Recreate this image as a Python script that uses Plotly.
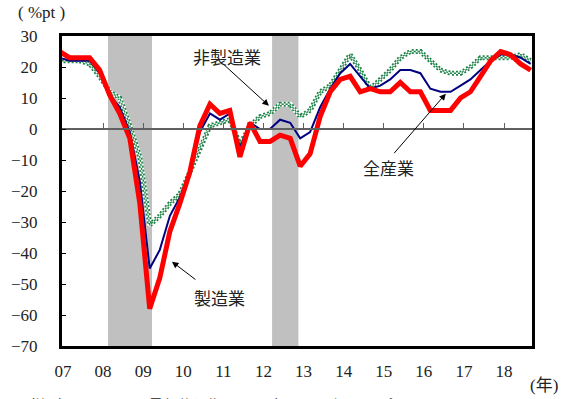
import pandas as pd
import plotly.graph_objects as go

# Tankan business conditions DI (large enterprises), survey months Dec 2006 - Sep 2018
survey_months = pd.date_range("2006-12-01", "2018-09-01", freq="3MS")

manufacturing = [25, 23, 23, 23, 19, 11, 5, -3, -24, -58, -48, -33, -24, -14, 1, 8, 5, 6, -9, 2,
                 -4, -4, -2, -3, -12, -8, 4, 12, 16, 17, 12, 13, 12, 12, 15, 12, 12, 6, 6, 6,
                 10, 12, 17, 22, 25, 24, 21, 19]
non_manufacturing = [22, 22, 22, 21, 17, 12, 10, 1, -9, -31, -28, -24, -21, -14, -6, 1, 2, 3, -5, 1,
                     4, 5, 8, 8, 4, 6, 12, 14, 19, 24, 19, 13, 16, 19, 23, 25, 25, 22, 19, 18,
                     18, 20, 23, 23, 23, 23, 24, 22]
all_industries = [23, 22, 22, 22, 18, 11, 7, -1, -17, -45, -39, -28, -22, -14, -1, 5, 3, 5, -6, 2,
                  0, 0, 3, 2, -3, -1, 7, 13, 18, 21, 17, 13, 14, 16, 19, 19, 18, 13, 12, 12,
                  14, 16, 19, 22, 24, 24, 23, 21]

# Recession periods (shaded)
recessions = [("2008-02-15", "2009-03-22"), ("2012-03-20", "2012-11-15")]

year_ticks = [f"{y}-01-01" for y in range(2007, 2019)]
year_labels = [f"{y % 100:02d}" for y in range(2007, 2019)]

x_range = ["2006-12-23", "2018-09-13"]

GREEN = "#1E8449"
serif = "Liberation Serif, Times New Roman, serif"
jp = "Noto Sans CJK JP, sans-serif"

fig = go.Figure()

# Non-manufacturing: checkered green/white band built from layered dashes
common = dict(x=survey_months, y=non_manufacturing, mode="lines", hoverinfo="skip", showlegend=False)
fig.add_trace(go.Scatter(**common, line=dict(color="white", width=5)))
fig.add_trace(go.Scatter(**common, line=dict(color=GREEN, width=5, dash="2px,2px")))
fig.add_trace(go.Scatter(**common, line=dict(color="white", width=1.4, dash="2px,2px")))
fig.add_trace(go.Scatter(**common, line=dict(color=GREEN, width=1.4, dash="0px,2px,2px,0px")))

fig.add_trace(go.Scatter(x=survey_months, y=all_industries, mode="lines", name="全産業",
                         line=dict(color="#000080", width=2), showlegend=False))
fig.add_trace(go.Scatter(x=survey_months, y=manufacturing, mode="lines", name="製造業",
                         line=dict(color="#FF0000", width=5), showlegend=False))

# carrier trace for the zero-line axis with year ticks
fig.add_trace(go.Scatter(x=[survey_months[0]], y=[None], xaxis="x2", mode="lines",
                         showlegend=False, hoverinfo="skip"))

for start, end in recessions:
    fig.add_shape(type="rect", xref="x", yref="paper", x0=start, x1=end, y0=0, y1=1,
                  fillcolor="#C0C0C0", line=dict(width=0), layer="below")

label_font = dict(family=jp, size=17, color="#222222")
fig.add_annotation(x="2011-02-03", y=23.3, text="非製造業", showarrow=False, font=label_font)
fig.add_annotation(x="2010-12-01", y=-54.4, text="製造業", showarrow=False, font=label_font)
fig.add_annotation(x="2015-02-17", y=-12.5, text="全産業", showarrow=False, font=label_font)

arrow = dict(text="", showarrow=True, arrowhead=2, arrowsize=1.3, arrowwidth=1, arrowcolor="black", standoff=0)
fig.add_annotation(x="2012-02-20", y=7.5, ax=-46, ay=-42, **arrow)
fig.add_annotation(x="2009-09-20", y=-42.8, ax=25, ay=19, **arrow)
fig.add_annotation(x="2016-07-20", y=11.4, ax=-53, ay=61, **arrow)

fig.add_annotation(xref="paper", yref="paper", x=-0.098, y=1.077, xanchor="left", yanchor="middle",
                   text="( %pt )", showarrow=False, font=dict(family=serif, size=17, color="#222222"))
fig.add_annotation(xref="paper", yref="paper", x=1.026, y=-0.126, xanchor="center", yanchor="middle",
                   text="(年)", showarrow=False, font=dict(family=serif + ", " + jp, size=17, color="#222222"))
fig.add_annotation(xref="paper", yref="paper", x=-0.094, y=-0.148, xanchor="left", yanchor="top",
                   text="（注1）シャドーは景気後退期。2017年12月は旧サンプルベース。", showarrow=False,
                   font=dict(family=jp, size=15, color="#222222"))

fig.update_layout(
    width=566, height=399, autosize=False,
    margin=dict(l=62, r=34, t=36, b=53, pad=0),
    paper_bgcolor="white", plot_bgcolor="white",
    xaxis=dict(type="date", range=x_range, tickvals=year_ticks, ticktext=year_labels,
               showgrid=False, zeroline=False, showline=True, mirror=True,
               linecolor="black", linewidth=3, ticks="", ticklabelstandoff=8,
               tickfont=dict(family=serif, size=17, color="#222222")),
    xaxis2=dict(type="date", range=x_range, overlaying="x", anchor="free", position=0.7,
                side="bottom", tickvals=year_ticks, showticklabels=False, showgrid=False,
                zeroline=False, showline=True, linecolor="#606060", linewidth=1.5,
                ticks="inside", ticklen=5, tickwidth=1.2, tickcolor="#606060"),
    yaxis=dict(range=[-70, 30], dtick=10, showgrid=False, zeroline=False, showline=True,
               mirror=True, linecolor="black", linewidth=3, ticks="inside", ticklen=4,
               tickcolor="black", ticklabelstandoff=18,
               tickfont=dict(family=serif, size=17, color="#222222")),
)

fig.write_html("out.html")
